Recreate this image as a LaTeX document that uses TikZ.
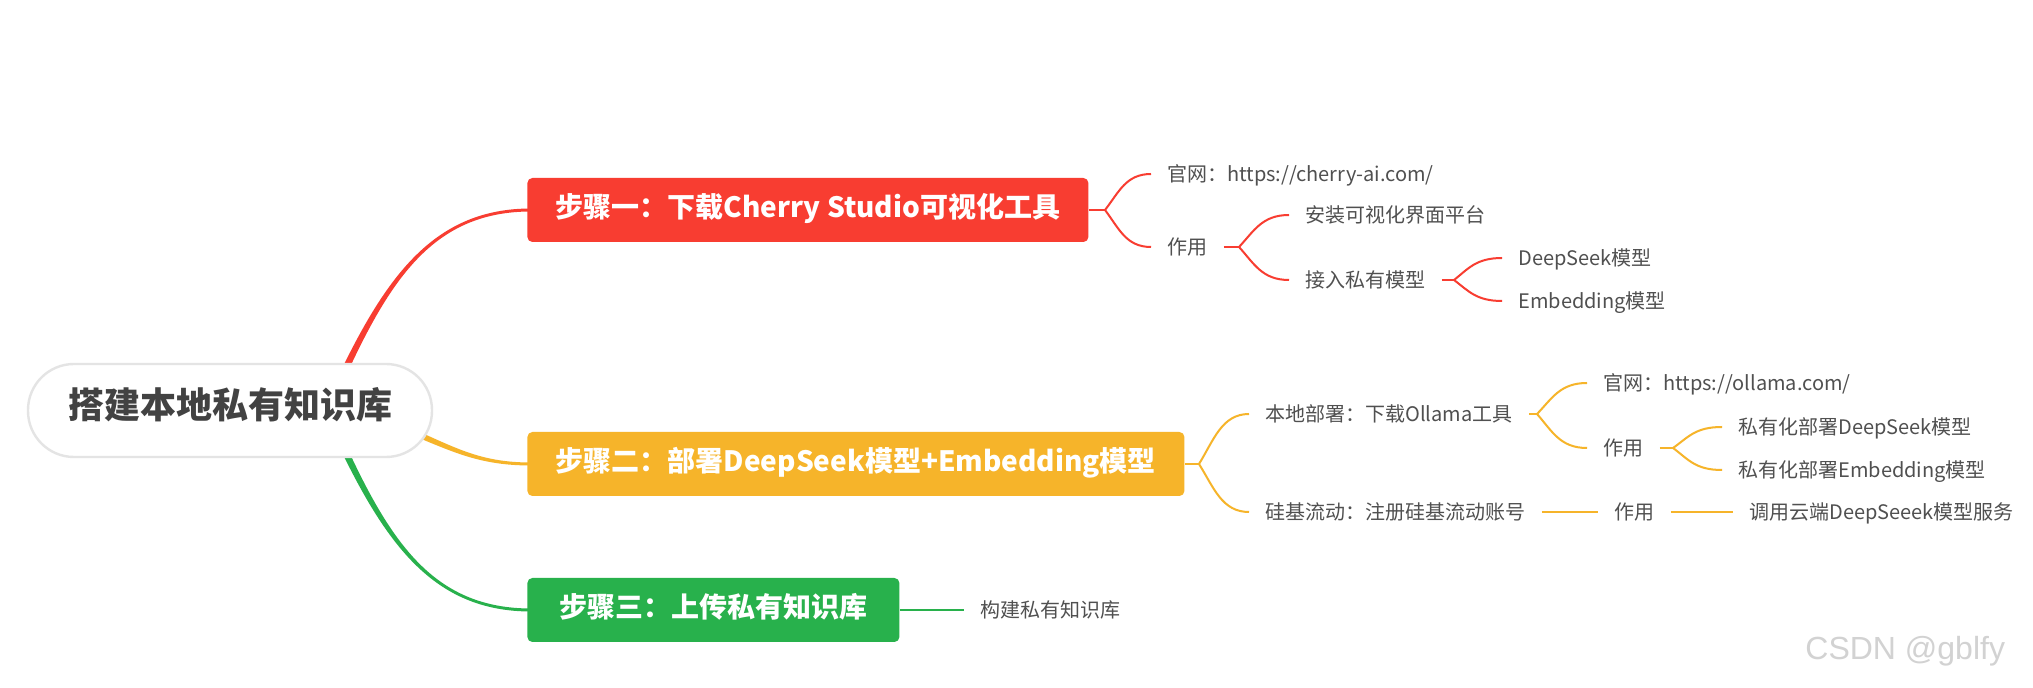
\documentclass[tikz,border=0pt]{standalone}
\usepackage{fontspec}
\setmainfont{Noto Sans CJK SC}
\newfontfamily\wmfont{Liberation Sans}
\usetikzlibrary{calc,backgrounds}
\definecolor{cred}{HTML}{F83D31}
\definecolor{cyel}{HTML}{F6B42A}
\definecolor{cgrn}{HTML}{28B14C}
\definecolor{ctxt}{HTML}{505050}
\definecolor{croot}{HTML}{424242}
\definecolor{cedge}{HTML}{E4E4E4}
\definecolor{cwm}{HTML}{D2D2D2}
\begin{document}
\begin{tikzpicture}[x=0.5pt,y=-0.5pt,
  rootbox/.style={rectangle, rounded corners=23pt, minimum width=202pt, minimum height=46.5pt,
    fill=white, draw=cedge, line width=1.2pt, text=croot, inner sep=0pt,
    font=\bfseries\fontsize{18pt}{20pt}\selectfont, text height=.83em, text depth=.07em},
  stepbox/.style={rectangle, rounded corners=2.5pt, anchor=west, minimum height=32pt, inner sep=0pt,
    text=white, font=\bfseries\fontsize{14pt}{16pt}\selectfont, text height=.83em, text depth=.07em},
  leaf/.style={anchor=west, inner xsep=8pt, inner ysep=0pt, text=ctxt,
    font=\fontsize{10pt}{12pt}\selectfont, text height=.83em, text depth=.07em},
  thin/.style={line width=1pt},
]
\useasboundingbox (0,0) rectangle (2033,688);

% root and main steps
\node[rootbox] (root) at (230,410.5) {搭建本地私有知识库};
\node[stepbox, fill=cred, minimum width=280.5pt] (s1) at (527,210) {步骤一：下载Cherry Studio可视化工具};
\node[stepbox, fill=cyel, minimum width=328.5pt] (s2) at (527,464) {步骤二：部署DeepSeek模型+Embedding模型};
\node[stepbox, fill=cgrn, minimum width=186pt] (s3) at (527,610) {步骤三：上传私有知识库};

% step 1 subtree
\node[leaf] (a1) at (1151,174) {官网：https://cherry-ai.com/};
\node[leaf] (a2) at (1151,247) {作用};
\node[leaf] (a21) at (1289,215) {安装可视化界面平台};
\node[leaf] (a22) at (1289,280) {接入私有模型};
\node[leaf] (a221) at (1502,258) {DeepSeek模型};
\node[leaf] (a222) at (1502,301) {Embedding模型};

% step 2 subtree
\node[leaf] (b1) at (1249,414) {本地部署：下载Ollama工具};
\node[leaf] (b2) at (1249,512) {硅基流动：注册硅基流动账号};
\node[leaf] (b11) at (1587,383) {官网：https://ollama.com/};
\node[leaf] (b12) at (1587,448) {作用};
\node[leaf] (b121) at (1722,427) {私有化部署DeepSeek模型};
\node[leaf] (b122) at (1722,470) {私有化部署Embedding模型};
\node[leaf] (b21) at (1598,512) {作用};
\node[leaf] (b211) at (1733,512) {调用云端DeepSeeek模型服务};

% step 3 subtree
\node[leaf] (c1) at (964,610) {构建私有知识库};

% watermark
\node[anchor=base west, inner sep=0pt, text=cwm, font=\wmfont\fontsize{16pt}{18pt}\selectfont] (wm) at (1805,660) {CSDN @gblfy};

% fork points
\coordinate (fs1) at (1105,210);
\coordinate (fa2) at (1239,247);
\coordinate (fa22) at (1454,280);
\coordinate (fs2) at (1199,464);
\coordinate (fb1) at (1537,414);
\coordinate (fb12) at (1673,448);

\begin{scope}[on background layer]
  \fill[white] (0,0) rectangle (2033,688);
  % tapered main branches
  \fill[cred] ($(root.center)+(111,-40)$) .. controls ($(root.center)+(159,-138.5)$) and ($(s1.west)+(-90,-1.5)$) .. ($(s1.west)+(4,-1.5)$)
     -- ($(s1.west)+(4,1.5)$) .. controls ($(s1.west)+(-90,1.5)$) and ($(root.center)+(163,-136.5)$) .. ($(root.center)+(117,-37)$) -- cycle;
  \fill[cgrn] ($(root.center)+(111,40)$) .. controls ($(root.center)+(159,138.5)$) and ($(s3.west)+(-90,1.5)$) .. ($(s3.west)+(4,1.5)$)
     -- ($(s3.west)+(4,-1.5)$) .. controls ($(s3.west)+(-90,-1.5)$) and ($(root.center)+(163,136.5)$) .. ($(root.center)+(117,37)$) -- cycle;
  \fill[cyel] ($(root.center)+(181,17.7)$) .. controls ($(root.center)+(226,37.2)$) and ($(s2.west)+(-47,-1.5)$) .. ($(s2.west)+(4,-1.5)$)
     -- ($(s2.west)+(4,1.5)$) .. controls ($(s2.west)+(-47,1.5)$) and ($(root.center)+(224,41.8)$) .. ($(root.center)+(178.8,23.3)$) -- cycle;

  % step 1 connectors
  \begin{scope}[thin, draw=cred]
    \draw (s1.east) -- (fs1);
    \draw (fs1) .. controls +(14,-18) and +(-25,0) .. (a1.west);
    \draw (fs1) .. controls +(14,18.5) and +(-25,0) .. (a2.west);
    \draw (a2.east) -- (fa2);
    \draw (fa2) .. controls +(15,-16) and +(-27,0) .. (a21.west);
    \draw (fa2) .. controls +(15,16.5) and +(-27,0) .. (a22.west);
    \draw (a22.east) -- (fa22);
    \draw (fa22) .. controls +(14,-11) and +(-26,0) .. (a221.west);
    \draw (fa22) .. controls +(14,10.5) and +(-26,0) .. (a222.west);
  \end{scope}
  % step 2 connectors
  \begin{scope}[thin, draw=cyel]
    \draw (s2.east) -- (fs2);
    \draw (fs2) .. controls +(15,-24.5) and +(-27,0) .. (b1.west);
    \draw (fs2) .. controls +(15,24) and +(-27,0) .. (b2.west);
    \draw (b1.east) -- (fb1);
    \draw (fb1) .. controls +(15,-15.5) and +(-27,0) .. (b11.west);
    \draw (fb1) .. controls +(15,17) and +(-27,0) .. (b12.west);
    \draw (b12.east) -- (fb12);
    \draw (fb12) .. controls +(15,-10.5) and +(-27,0) .. (b121.west);
    \draw (fb12) .. controls +(15,11) and +(-27,0) .. (b122.west);
    \draw (b2.east) -- (b21.west);
    \draw (b21.east) -- (b211.west);
  \end{scope}
  % step 3 connector
  \draw[thin, draw=cgrn] (s3.east) -- (c1.west);
\end{scope}
\end{tikzpicture}
\end{document}
